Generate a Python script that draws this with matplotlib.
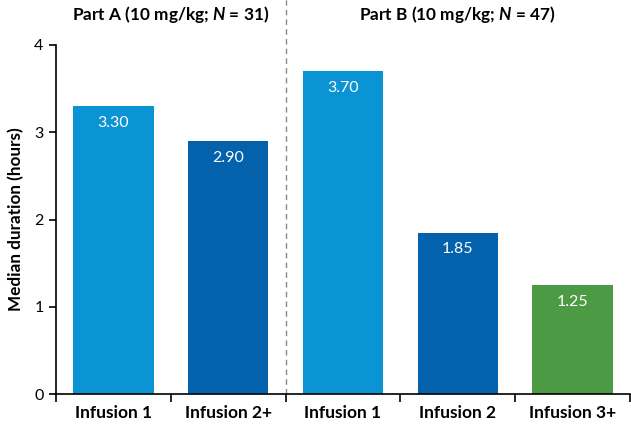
import numpy as np
import matplotlib.pyplot as plt

plt.rcParams['font.family'] = ['Lato', 'DejaVu Sans']
plt.rcParams['mathtext.fontset'] = 'custom'
plt.rcParams['mathtext.bfit'] = 'Lato:italic:bold'
plt.rcParams['mathtext.rm'] = 'Lato'

categories = ['Infusion 1', 'Infusion 2+', 'Infusion 1', 'Infusion 2', 'Infusion 3+']
durations = [3.30, 2.90, 3.70, 1.85, 1.25]
bar_colors = ['#0a94d4', '#0461ab', '#0a94d4', '#0461ab', '#4d9a45']
part_titles = ['Part A (10 mg/kg; $\\bfit{N}$ = 31)', 'Part B (10 mg/kg; $\\bfit{N}$ = 47)']
part_centers = [0.5, 3.0]

fig = plt.figure(figsize=(6.31, 4.24), dpi=100)
ax = fig.add_axes([56 / 631, 30 / 424, 574 / 631, 349 / 424])

x = np.arange(len(categories))
bars = ax.bar(x, durations, width=0.70, color=bar_colors)
for xi, v in zip(x, durations):
    ax.text(xi, v - 0.11, '%.2f' % v, ha='center', va='top', color='white', fontsize=11.5)

ax.set_xlim(-0.5, len(categories) - 0.5)
ax.set_ylim(0, 4)
ax.set_yticks([0, 1, 2, 3, 4])
ax.set_xticks(np.arange(-0.5, len(categories)))
ax.set_xticklabels([])
ax.set_xticks(x, minor=True)
ax.set_xticklabels(categories, minor=True, fontsize=12.5, fontweight='bold')
ax.tick_params(axis='x', which='minor', length=0, pad=8)
ax.tick_params(axis='x', which='major', length=6, width=1.2, direction='out')
ax.tick_params(axis='y', length=5, width=1.2, labelsize=11.5, pad=4)

for s in ['top', 'right']:
    ax.spines[s].set_visible(False)
ax.spines['left'].set_linewidth(1.2)
ax.spines['bottom'].set_linewidth(1.2)

ax.set_ylabel('Median duration (hours)', fontsize=12.3, fontweight='bold', labelpad=7)

ax.axvline(1.5, ymin=0, ymax=394 / 349, color='#888888', linestyle=(0, (4, 3)),
           linewidth=1, clip_on=False)

for t, c in zip(part_titles, part_centers):
    ax.text(c, 4.35, t, ha='center', va='center', fontsize=12.4, fontweight='bold')

fig.savefig('out.png', dpi=100)
